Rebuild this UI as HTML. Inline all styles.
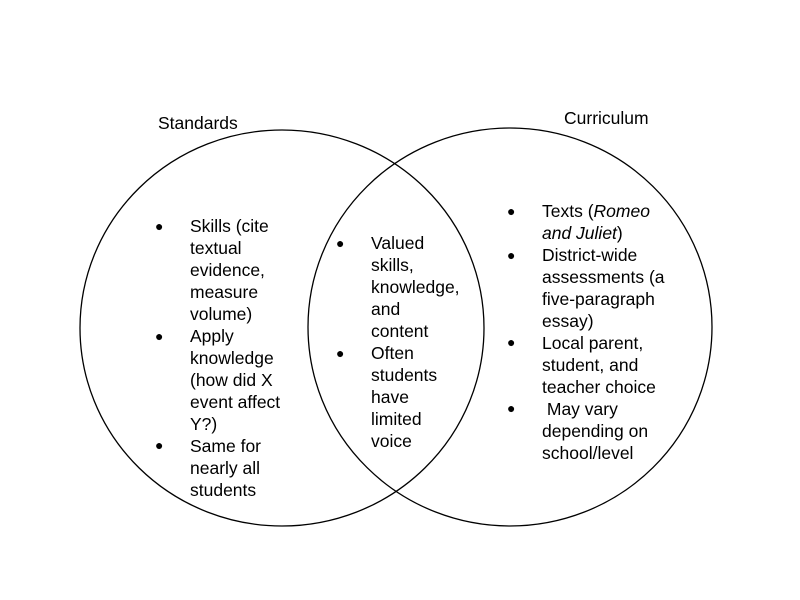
<!DOCTYPE html>
<html><head><meta charset="utf-8"><style>
body{margin:0;width:800px;height:600px;background:#fff;position:relative;overflow:hidden;font-family:"Liberation Sans",Arial,sans-serif;font-size:17.5px;color:#000}
.t{position:absolute;line-height:22px;white-space:nowrap}
.b{position:absolute;font-size:14px;line-height:22px}
</style></head><body>
<svg width="800" height="600" style="position:absolute;left:0;top:0">
<ellipse cx="282" cy="328" rx="202" ry="198" fill="none" stroke="#000" stroke-width="1.3"/>
<ellipse cx="510" cy="327" rx="202" ry="199" fill="none" stroke="#000" stroke-width="1.3"/>
</svg>
<div class="t" style="left:158px;top:112px">Standards</div>
<div class="t" style="left:564px;top:107px">Curriculum</div>

<div class="b" style="left:155px;top:215px">●</div>
<div class="b" style="left:155px;top:325px">●</div>
<div class="b" style="left:155px;top:434px">●</div>
<div class="t" style="left:190px;top:215px">Skills (cite<br>textual<br>evidence,<br>measure<br>volume)<br>Apply<br>knowledge<br>(how did X<br>event affect<br>Y?)<br>Same for<br>nearly all<br>students</div>

<div class="b" style="left:336px;top:232px">●</div>
<div class="b" style="left:336px;top:342px">●</div>
<div class="t" style="left:371px;top:232px">Valued<br>skills,<br>knowledge,<br>and<br>content<br>Often<br>students<br>have<br>limited<br>voice</div>

<div class="b" style="left:507px;top:200px">●</div>
<div class="b" style="left:507px;top:244px">●</div>
<div class="b" style="left:507px;top:331px">●</div>
<div class="b" style="left:507px;top:397px">●</div>
<div class="t" style="left:542px;top:200px">Texts (<i>Romeo</i><br><i>and Juliet</i>)<br>District-wide<br>assessments (a<br>five-paragraph<br>essay)<br>Local parent,<br>student, and<br>teacher choice<br>&nbsp;May vary<br>depending on<br>school/level</div>
</body></html>
